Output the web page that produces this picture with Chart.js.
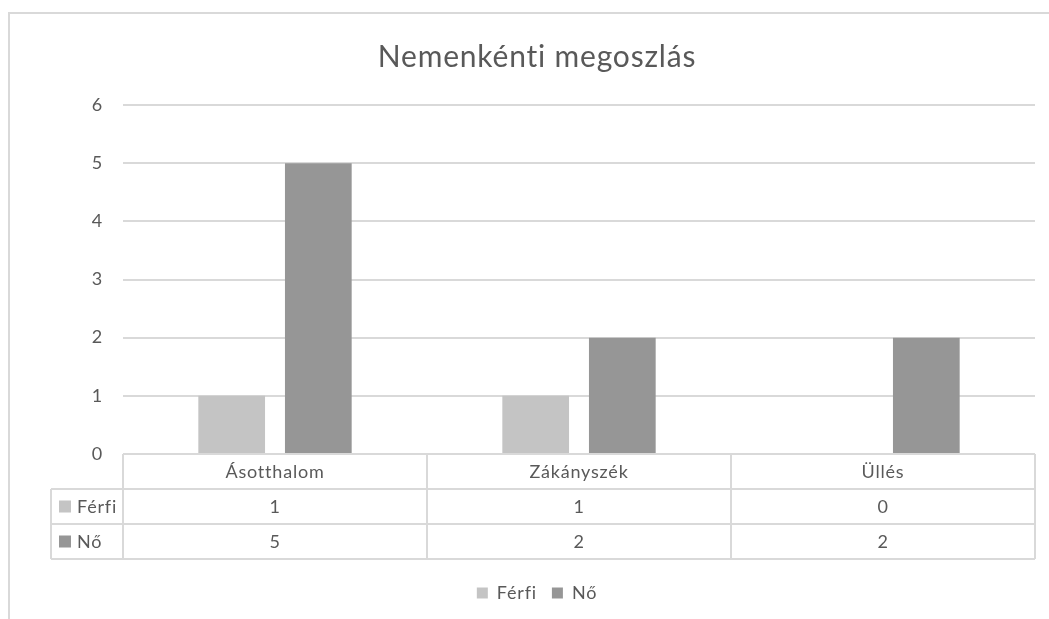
<!DOCTYPE html>
<html>
<head>
<meta charset="utf-8">
<title>Nemenkénti megoszlás</title>
<script src="https://cdn.jsdelivr.net/npm/chart.js@4.4.1/dist/chart.umd.min.js"></script>
<style>
  html, body { margin: 0; padding: 0; background: #fff; }
  #wrap { width: 1049px; height: 619px; }
</style>
</head>
<body>
<div id="wrap"><canvas id="chart" width="1049" height="619"></canvas></div>
<script>
// chart data
const chartTitle = 'Nemenkénti megoszlás';
const categories = ['Ásotthalom', 'Zákányszék', 'Üllés'];
const seriesNames = ['Férfi', 'Nő'];
const ferfiValues = [1, 1, 0];
const noValues = [5, 2, 2];
const yTicks = [0, 1, 2, 3, 4, 5, 6];

const textColor = '#595959';
const lineColor = '#d9d9d9';
const fontFamily = 'Lato, "Open Sans", sans-serif';
const fontSize = 18;
const spacing = '0.8px'; // a bit wider text, also stops the "fi" ligature
const rowH = 35;

// letter spacing has to be set again after chart.js resets the canvas
const spacingPlugin = {
  id: 'spacing',
  beforeLayout(chart) { chart.ctx.letterSpacing = spacing; },
  beforeDraw(chart) { chart.ctx.letterSpacing = spacing; }
};

// outer frame of the chart
const framePlugin = {
  id: 'frame',
  beforeDraw(chart) {
    const ctx = chart.ctx;
    ctx.save();
    ctx.strokeStyle = lineColor;
    ctx.lineWidth = 2;
    ctx.beginPath();
    ctx.moveTo(9, chart.height + 5);
    ctx.lineTo(9, 13);
    ctx.lineTo(chart.width + 5, 13);
    ctx.stroke();
    ctx.restore();
  }
};

// data table under the plot, like in Excel
const dataTablePlugin = {
  id: 'dataTable',
  afterDraw(chart) {
    const ctx = chart.ctx;
    const area = chart.chartArea;
    const labels = chart.data.labels;
    const sets = chart.data.datasets;
    const colW = (area.right - area.left) / labels.length;
    const top = area.bottom;
    const bottom = top + rowH * (sets.length + 1);
    const leftCol = 51;

    ctx.save();
    ctx.strokeStyle = lineColor;
    ctx.lineWidth = 2;
    ctx.beginPath();
    // horizontal lines
    ctx.moveTo(area.left, top);
    ctx.lineTo(area.right, top);
    for (let r = 1; r <= sets.length + 1; r++) {
      ctx.moveTo(leftCol, top + r * rowH);
      ctx.lineTo(area.right, top + r * rowH);
    }
    // vertical lines
    ctx.moveTo(leftCol, top + rowH);
    ctx.lineTo(leftCol, bottom);
    for (let c = 0; c <= labels.length; c++) {
      const x = area.left + c * colW;
      ctx.moveTo(x, top);
      ctx.lineTo(x, bottom);
    }
    ctx.stroke();

    ctx.letterSpacing = spacing;
    ctx.fillStyle = textColor;
    ctx.font = fontSize + 'px ' + fontFamily;
    ctx.textBaseline = 'middle';
    ctx.textAlign = 'center';
    labels.forEach((lab, i) => {
      const cx = chart.scales.x.getPixelForValue(i);
      ctx.fillText(lab, cx, top + rowH / 2 + 1);
      sets.forEach((ds, r) => {
        ctx.fillText(String(ds.data[i]), cx, top + (r + 1.5) * rowH + 1);
      });
    });

    // row headers with colour keys
    ctx.textAlign = 'left';
    sets.forEach((ds, r) => {
      const cy = top + (r + 1.5) * rowH;
      ctx.fillStyle = ds.backgroundColor;
      ctx.fillRect(59, cy - 6, 12, 12);
      ctx.fillStyle = textColor;
      ctx.fillText(ds.label, 77, cy + 1);
    });
    ctx.restore();
  }
};

function init() {
  const ctx = document.getElementById('chart').getContext('2d');
  new Chart(ctx, {
    type: 'bar',
    data: {
      labels: categories,
      datasets: [
        { label: seriesNames[0], data: ferfiValues, backgroundColor: '#c4c4c4' },
        { label: seriesNames[1], data: noValues, backgroundColor: '#969696' }
      ]
    },
    options: {
      responsive: false,
      animation: false,
      layout: { padding: { left: 39, right: 14, top: 0, bottom: 7 } },
      datasets: {
        bar: { categoryPercentage: 0.57, barPercentage: 0.77 }
      },
      scales: {
        x: {
          grid: { display: false },
          border: { display: false },
          ticks: { display: false },
          afterFit(scale) { scale.height = 115; }
        },
        y: {
          min: yTicks[0],
          max: yTicks[yTicks.length - 1],
          afterBuildTicks(scale) { scale.ticks = yTicks.map(v => ({ value: v })); },
          ticks: {
            color: textColor,
            padding: 20,
            font: { family: fontFamily, size: fontSize }
          },
          grid: { color: lineColor, lineWidth: 2, drawTicks: false },
          border: { display: false },
          afterFit(scale) { scale.width = 84; }
        }
      },
      plugins: {
        title: {
          display: true,
          text: chartTitle,
          color: textColor,
          font: { family: fontFamily, size: 30, weight: 'normal' },
          padding: { top: 39, bottom: 30 }
        },
        legend: {
          position: 'bottom',
          labels: {
            color: textColor,
            boxWidth: 11,
            boxHeight: 11,
            padding: 15,
            font: { family: fontFamily, size: fontSize }
          }
        },
        tooltip: { enabled: false }
      }
    },
    plugins: [spacingPlugin, framePlugin, dataTablePlugin]
  });
}

if (document.fonts && document.fonts.load) {
  document.fonts.load(fontSize + 'px Lato').then(init, init);
} else {
  init();
}
</script>
</body>
</html>
